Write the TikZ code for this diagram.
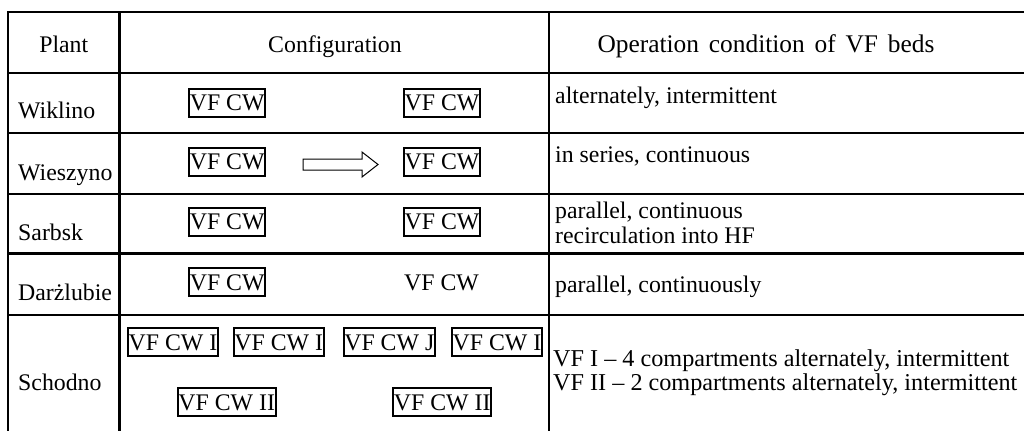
\documentclass[tikz,border=0pt]{standalone}
\usepackage{fontspec}
\setmainfont{Liberation Serif}
\newcommand\tfs{\fontsize{23.8}{28}\selectfont}
\newcommand\hfs{\fontsize{25.4}{30}\selectfont\spaceskip=9.8pt plus 1pt}
\newcommand\sfs{\fontsize{24.2}{29}\selectfont}
\tikzset{
  tbl/.style={line width=2.2pt},
  vfbox/.style={draw, line width=2pt, inner xsep=0.7pt, inner ysep=0pt, text height=22pt, text depth=6pt, font=\tfs, anchor=base},
  lbl/.style={inner sep=0pt, font=\tfs},
  arrowline/.style={line width=1pt}
}
\begin{document}
\begin{tikzpicture}[x=1pt,y=-1pt]
\useasboundingbox (0,0) rectangle (1024,431);
% table grid
\draw[tbl] (1024,12) -- (8,12) -- (8,431);
\draw[tbl] (119.5,12) -- (119.5,431);
\draw[tbl] (548.7,12) -- (548.7,431);
\foreach \yy in {72.7,133.3,194,253.5,315}{\draw[tbl] (8,\yy) -- (1024,\yy);}
% header
\node[lbl, anchor=base] (hplant) at (63.75,52.3) {Plant};
\node[lbl, anchor=base] (hconf) at (335,52.3) {Configuration};
\node[lbl, anchor=base, font=\hfs] (hop) at (766,52.3) {Operation condition of VF beds};
% plant names
\node[lbl, anchor=base west] (p1) at (18,118.3) {Wiklino};
\node[lbl, anchor=base west] (p2) at (18,180) {Wieszyno};
\node[lbl, anchor=base west] (p3) at (18,240) {Sarbsk};
\node[lbl, anchor=base west] (p4) at (18,300) {Darżlubie};
\node[lbl, anchor=base west] (p5) at (18,390) {Schodno};
% configuration
\node[vfbox] (w1) at (227.2,110.7) {VF CW};
\node[vfbox] (w2) at (442,110.7) {VF CW};
\node[vfbox] (z1) at (227.2,169.7) {VF CW};
\node[vfbox] (z2) at (442,169.7) {VF CW};
\draw[arrowline] (303,159) -- (362,159) -- (362,152) -- (378,164.5) -- (362,177) -- (362,170) -- (303,170) -- cycle;
\node[vfbox] (s1) at (227.2,229.7) {VF CW};
\node[vfbox] (s2) at (442,229.7) {VF CW};
\node[vfbox] (d1) at (227.2,290.3) {VF CW};
\node[lbl, anchor=base] (d2) at (441.5,290.3) {VF CW};
\node[vfbox] (c1) at (173,350.3) {VF CW I};
\node[vfbox] (c2) at (278.7,350.3) {VF CW I};
\node[vfbox] (c3) at (389.3,350.3) {VF CW J};
\node[vfbox] (c4) at (497,350.3) {VF CW I};
\node[vfbox] (c5) at (226.7,410.3) {VF CW II};
\node[vfbox] (c6) at (442.2,410.3) {VF CW II};
% operation conditions
\node[lbl, anchor=base west] (o1) at (555,103) {alternately, intermittent};
\node[lbl, anchor=base west] (o2) at (555,162.5) {in series, continuous};
\node[lbl, anchor=base west] (o3a) at (555,218.3) {parallel, continuous};
\node[lbl, anchor=base west] (o3b) at (555,243.3) {recirculation into HF};
\node[lbl, anchor=base west] (o4) at (555,292) {parallel, continuously};
\node[lbl, anchor=base west, font=\sfs] (o5a) at (553,366) {VF I – 4 compartments alternately, intermittent};
\node[lbl, anchor=base west, font=\sfs] (o5b) at (553,390) {VF II – 2 compartments alternately, intermittent};
\end{tikzpicture}
\end{document}
